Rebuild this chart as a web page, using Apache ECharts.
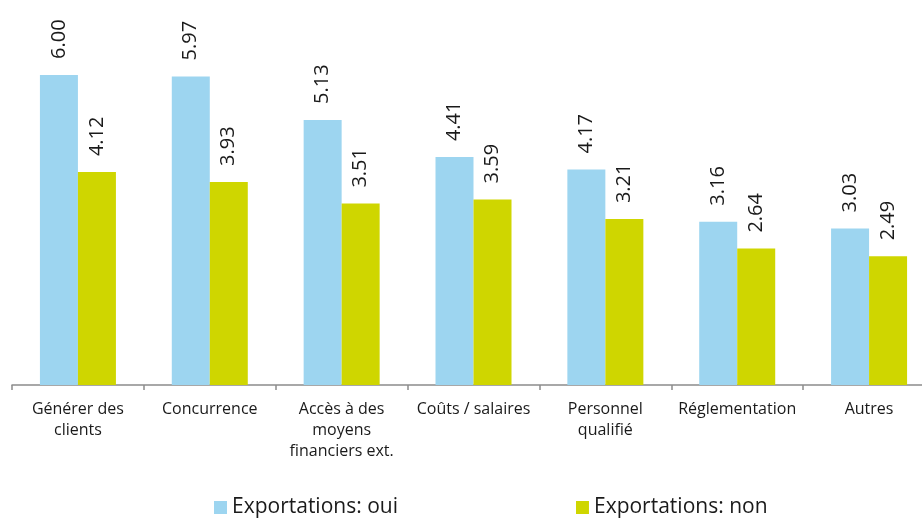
<!DOCTYPE html>
<html>
<head>
<meta charset="utf-8">
<script src="https://cdn.jsdelivr.net/npm/echarts@6/dist/echarts.min.js"></script>
<style>
  html, body { margin: 0; padding: 0; background: #ffffff; }
  #chart { width: 922px; height: 518px; }
</style>
</head>
<body>
<div id="chart"></div>
<script>
// Obstacles cited by firms, split by export activity
const categories = [
  'Générer des\nclients',
  'Concurrence',
  'Accès à des\nmoyens\nfinanciers ext.',
  'Coûts / salaires',
  'Personnel\nqualifié',
  'Réglementation',
  'Autres'
];
const seriesNames = ['Exportations: oui', 'Exportations: non'];
const exportYes = [6.00, 5.97, 5.13, 4.41, 4.17, 3.16, 3.03];
const exportNo = [4.12, 3.93, 3.51, 3.59, 3.21, 2.64, 2.49];

const FONT = '"Open Sans", "DejaVu Sans", sans-serif';

const valueLabel = {
  show: true,
  position: 'top',
  rotate: 90,
  align: 'left',
  verticalAlign: 'middle',
  distance: 16,
  color: '#1a1a1a',
  fontFamily: FONT,
  fontSize: 20,
  formatter: p => p.value.toFixed(2)
};

const chart = echarts.init(document.getElementById('chart'), null, { renderer: 'canvas' });
chart.setOption({
  animation: false,
  backgroundColor: '#ffffff',
  // the category axis runs a little past the right edge of the canvas
  grid: { left: 12, width: 923, top: 0, height: 385, containLabel: false, outerBoundsMode: 'none' },
  legend: {
    data: seriesNames,
    left: 214,
    bottom: 0,
    padding: 0,
    itemWidth: 13,
    itemHeight: 13,
    itemGap: 178,
    icon: 'rect',
    textStyle: { color: '#1a1a1a', fontFamily: FONT, fontSize: 21 }
  },
  xAxis: {
    type: 'category',
    data: categories,
    axisLine: { lineStyle: { color: '#8c8c8c', width: 1.5 } },
    axisTick: { show: true, length: 5, lineStyle: { color: '#8c8c8c', width: 1.5 } },
    axisLabel: {
      interval: 0,
      margin: 14,
      color: '#1a1a1a',
      fontFamily: FONT,
      fontSize: 16,
      lineHeight: 21
    }
  },
  yAxis: {
    type: 'value',
    min: 0,
    max: 7.45,
    show: false,
    splitLine: { show: false }
  },
  series: [
    {
      name: seriesNames[0],
      type: 'bar',
      data: exportYes,
      barWidth: 38,
      barGap: '0%',
      itemStyle: { color: '#9dd5f0' },
      label: valueLabel
    },
    {
      name: seriesNames[1],
      type: 'bar',
      data: exportNo,
      barWidth: 38,
      itemStyle: { color: '#cfd600' },
      label: valueLabel
    }
  ]
});
</script>
</body>
</html>
